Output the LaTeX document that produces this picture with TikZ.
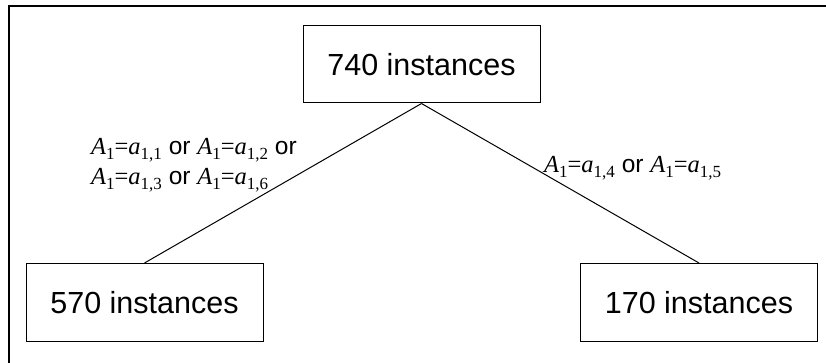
\documentclass[tikz,border=0pt]{standalone}
\usepackage{fontspec}
\setmainfont{Liberation Sans}
\newfontfamily\tms{Liberation Serif}
\newcommand{\asub}[1]{\raisebox{-0.2em}{\fontsize{17}{17}\selectfont\tms #1}}
\newcommand{\Aeq}[1]{{\tms\itshape A}\asub{1}{\tms =}{\tms\itshape a}\asub{#1}}
\begin{document}
\begin{tikzpicture}[x=1pt,y=-1pt,
  box/.style={draw,line width=1pt,minimum width=237pt,minimum height=78pt,inner sep=0pt,font=\fontsize{30.5}{36}\selectfont},
  lab/.style={anchor=base west,inner sep=0pt,font=\fontsize{24.5}{28}\selectfont},
  conn/.style={line width=1pt}]
\useasboundingbox (0,0) rectangle (826,363);
\draw[line width=2.2pt] (9,363) -- (9,6) -- (826,6);
\node[box,minimum height=77pt] (top) at (421.5,64.5) {740 instances};
\node[box] (left) at (144.5,302.5) {570 instances};
\node[box] (right) at (699,302.5) {170 instances};
\draw[conn] (top.south) -- (left.north);
\draw[conn] (top.south) -- (right.north);
\node[lab] (la) at (91,155) {\Aeq{1,1} or \Aeq{1,2} or};
\node[lab] (lb) at (91,185) {\Aeq{1,3} or \Aeq{1,6}};
\node[lab] (lc) at (544,173) {\Aeq{1,4} or \Aeq{1,5}};
\end{tikzpicture}
\end{document}
